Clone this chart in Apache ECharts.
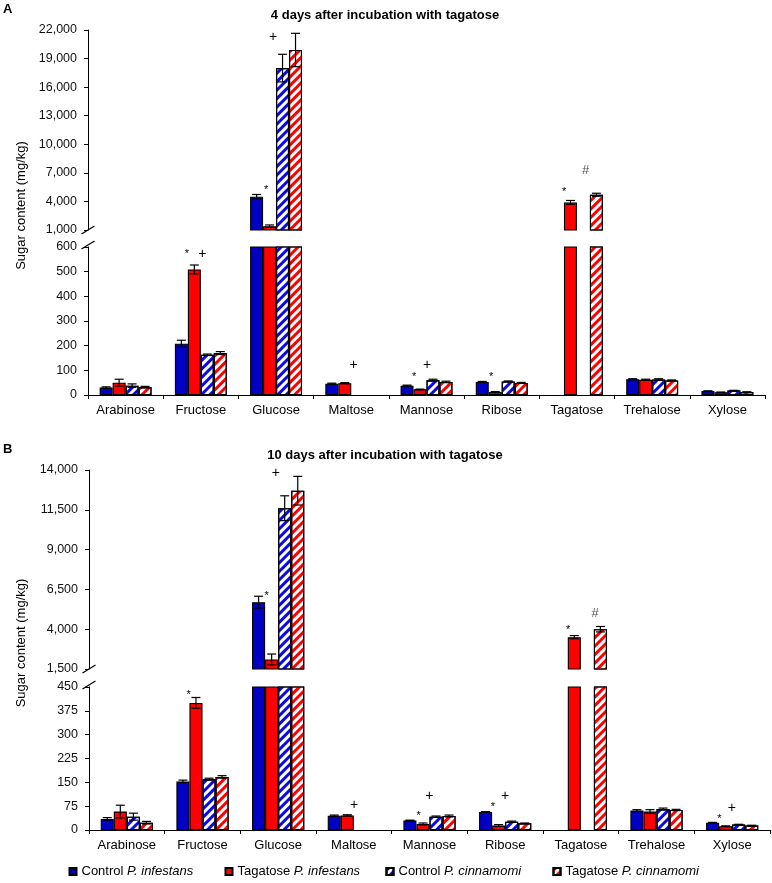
<!DOCTYPE html>
<html><head><meta charset="utf-8">
<script src="https://cdn.jsdelivr.net/npm/echarts@6/dist/echarts.min.js"></script>
<style>html,body{margin:0;padding:0;background:#fff}#c{width:772px;height:883px}</style>
</head><body><div id="c"></div>
<script>
// ---------------- DATA ----------------
const categories = ['Arabinose','Fructose','Glucose','Maltose','Mannose','Ribose','Tagatose','Trehalose','Xylose'];
const seriesNames = ['Control P. infestans','Tagatose P. infestans','Control P. cinnamomi','Tagatose P. cinnamomi'];

// Panel A: 4 days after incubation (mg/kg)
const ctrlInfA = [30, 208, 4500, 46, 38, 53, null, 64, 16];
const tagInfA  = [50, 509, 1400, 48, 23, 12, 3900, 62, 11];
const ctrlCinA = [38, 163, 18000, null, 60, 55, null, 63, 18];
const tagCinA  = [32, 170, 19900, null, 53, 49, 4700, 59, 12];
const errCtrlInfA = [3, 14, 230, 2, 2, 2, 0, 2, 1];
const errTagInfA  = [14, 18, 130, 2, 1, 2, 200, 2, 1];
const errCtrlCinA = [7, 3, 1450, 0, 4, 2, 0, 3, 1];
const errTagCinA  = [3, 6, 1750, 0, 3, 2, 160, 2, 1];

// Panel B: 10 days after incubation (mg/kg)
const ctrlInfB = [35, 153, 5700, 45, 30, 57, null, 61, 23];
const tagInfB  = [58, 400, 2100, 46, 19, 14, 3500, 58, 12];
const ctrlCinB = [42, 160, 11600, null, 42, 26, null, 66, 17];
const tagCinB  = [23, 167, 12700, null, 44, 21, 4000, 63, 14];
const errCtrlInfB = [4, 4, 370, 2, 1, 1, 0, 3, 1];
const errTagInfB  = [20, 17, 340, 2, 3, 3, 100, 6, 1];
const errCtrlCinB = [11, 3, 780, 0, 2, 2, 0, 3, 1];
const errTagCinB  = [4, 4, 900, 0, 3, 1, 170, 2, 1];

// Significance marks: [category, bar slot, mark, value anchor]
const annotA = [
  ['Fructose', 0.43, '*', 585], ['Fructose', 1.62, '+', 572],
  ['Glucose', 0.74, '*', 5500], ['Glucose', 1.28, '+', 21250],
  ['Maltose', 1.67, '+', 122],
  ['Mannose', 0.55, '*', 85], ['Mannose', 1.54, '+', 122],
  ['Ribose', 0.69, '*', 85],
  ['Tagatose', 0.51, '*', 5300], ['Tagatose', 2.16, '#', 7300]
];
const annotB = [
  ['Fructose', 0.43, '*', 434],
  ['Glucose', 0.61, '*', 6280], ['Glucose', 1.32, '+', 13800],
  ['Maltose', 1.51, '+', 78],
  ['Mannose', 0.67, '*', 54], ['Mannose', 1.49, '+', 108],
  ['Ribose', 0.55, '*', 82], ['Ribose', 1.49, '+', 108],
  ['Tagatose', 0.53, '*', 4150], ['Tagatose', 2.6, '#', 4970],
  ['Xylose', 0.53, '*', 44], ['Xylose', 1.48, '+', 68]
];

// Axis tick labels
const ticksUpperA = [1000, 4000, 7000, 10000, 13000, 16000, 19000, 22000];
const ticksLowerA = [0, 100, 200, 300, 400, 500, 600];
const ticksUpperB = [1500, 4000, 6500, 9000, 11500, 14000];
const ticksLowerB = [0, 75, 150, 225, 300, 375, 450];

const titleA = '4 days after incubation with tagatose';
const titleB = '10 days after incubation with tagatose';
const yName = 'Sugar content (mg/kg)';

// ---------------- STYLE / LAYOUT ----------------
const FONT = '"Liberation Sans", Arial, Helvetica, sans-serif';
const BLUE = '#0000c4';
const BLUE_H = '#0a0ae6';
const RED = '#ff0000';
const GAP = 0.31;
const layoutA = {left: 88, width: 677, upTop: 30, upH: 200, loTop: 247, loH: 148};
const layoutB = {left: 89, width: 681, upTop: 470, upH: 199, loTop: 687, loH: 143};

const hatch = c => ({symbol: 'rect', symbolSize: 1, dashArrayX: [1, 0], dashArrayY: [3, 3],
  rotation: -Math.PI / 4, color: c});
const barStyles = [
  {color: BLUE, borderColor: '#000', borderWidth: 1.1},
  {color: RED, borderColor: '#000', borderWidth: 1.1},
  {color: '#fff', borderColor: '#000', borderWidth: 1.1, decal: hatch(BLUE_H)},
  {color: '#fff', borderColor: '#000', borderWidth: 1.1, decal: hatch(RED)}
];

const grids = [], xAxes = [], yAxes = [], series = [], graphics = [];

function slotX(api, c, v, s) {
  const p = api.coord([c, v]);
  const bw = api.size([1, 0])[0];
  const gw = bw * (1 - GAP);
  return p[0] - gw / 2 + gw / 4 * (s + 0.5);
}

function buildPanel(L, vals, errs, annots, tUp, tLo, title, letter) {
  const gUp = grids.length, gLo = gUp + 1;
  const loMax = tLo[tLo.length - 1];
  grids.push({left: L.left, top: L.upTop, width: L.width, height: L.upH});
  grids.push({left: L.left, top: L.loTop, width: L.width, height: L.loH});
  xAxes.push({type: 'category', gridIndex: gUp, data: categories, show: false});
  xAxes.push({type: 'category', gridIndex: gLo, data: categories,
    axisLine: {lineStyle: {color: '#000', width: 1}},
    axisTick: {show: true, interval: 0, length: 4, lineStyle: {color: '#000'}},
    axisLabel: {interval: 0, margin: 9, color: '#000', fontSize: 13, fontFamily: FONT}});
  const yBase = (g, ticks) => ({
    type: 'value', gridIndex: g, min: ticks[0], max: ticks[ticks.length - 1],
    splitLine: {show: false},
    axisLine: {show: true, lineStyle: {color: '#000', width: 1}},
    axisTick: {show: true, length: 4, customValues: ticks, lineStyle: {color: '#000'}},
    axisLabel: {customValues: ticks, margin: 11, color: '#111', fontSize: 12.5, fontFamily: FONT,
      formatter: v => Number(v).toLocaleString('en-US')}
  });
  yAxes.push(yBase(gUp, tUp));
  yAxes.push(yBase(gLo, tLo));

  [gUp, gLo].forEach(g => {
    vals.forEach((arr, s) => {
      series.push({
        type: 'bar', name: seriesNames[s], xAxisIndex: g, yAxisIndex: g,
        data: arr.map(v => v == null ? '-' : v),
        barGap: '0%', barCategoryGap: (GAP * 100) + '%',
        itemStyle: barStyles[s], silent: true, clip: true,
        emphasis: {disabled: true}
      });
    });
    const isUp = g === gUp;
    const items = [];
    vals.forEach((arr, s) => arr.forEach((v, c) => {
      if (v == null || !errs[s][c]) return;
      if ((v > loMax) === isUp) items.push([c, s, v, errs[s][c]]);
    }));
    series.push({
      type: 'custom', xAxisIndex: g, yAxisIndex: g, clip: true, silent: true, z: 5,
      data: items, encode: {x: 0, y: 2},
      renderItem: (params, api) => {
        const c = api.value(0), s = api.value(1), v = api.value(2), e = api.value(3);
        const x = slotX(api, c, v, s);
        const y1 = api.coord([c, v + e])[1], y0 = api.coord([c, v - e])[1];
        const h = 4.5, st = {stroke: '#000', lineWidth: 1.2};
        return {type: 'group', children: [
          {type: 'line', shape: {x1: x, y1: y1, x2: x, y2: y0}, style: st},
          {type: 'line', shape: {x1: x - h, y1: y1, x2: x + h, y2: y1}, style: st},
          {type: 'line', shape: {x1: x - h, y1: y0, x2: x + h, y2: y0}, style: st}
        ]};
      }
    });
    const an = annots.filter(a => (a[3] > loMax) === isUp);
    series.push({
      type: 'custom', xAxisIndex: g, yAxisIndex: g, silent: true, z: 6,
      data: an.map(a => [categories.indexOf(a[0]), a[3]]), encode: {x: 0, y: 1},
      renderItem: (params, api) => {
        const a = an[params.dataIndex];
        const c = api.value(0), v = api.value(1);
        const x = slotX(api, c, v, a[1]);
        let y = api.coord([c, v])[1];
        const mark = a[2];
        const st = mark === '*' ? {fontSize: 11, fill: '#000', dy: 3}
                 : mark === '#' ? {fontSize: 13, fill: '#555', dy: 0}
                 : {fontSize: 14, fill: '#000', dy: 0};
        return {type: 'text', x: x, y: y + st.dy,
          style: {text: mark, fill: st.fill, fontSize: st.fontSize, fontFamily: FONT,
                  align: 'center', verticalAlign: 'middle'}};
      }
    });
  });

  // axis break marks
  [L.upTop + L.upH, L.loTop - 2].forEach(y => {
    graphics.push({type: 'line', silent: true, z: 10,
      shape: {x1: L.left - 6.5, y1: y + 4, x2: L.left + 6.5, y2: y - 4},
      style: {stroke: '#000', lineWidth: 1.2}});
  });
  // y-axis name
  graphics.push({type: 'text', silent: true, x: 21, y: (L.upTop + L.loTop + L.loH) / 2 - 7,
    rotation: Math.PI / 2,
    style: {text: yName, fontSize: 13, fontFamily: FONT, fill: '#000', align: 'center', verticalAlign: 'middle'}});
  // panel title
  graphics.push({type: 'text', silent: true, x: 385, y: L.upTop - 15,
    style: {text: title, fontSize: 13, fontWeight: 'bold', fontFamily: FONT, fill: '#000', align: 'center', verticalAlign: 'middle'}});
  // panel letter
  graphics.push({type: 'text', silent: true, x: 3, y: L.upTop - 21,
    style: {text: letter, fontSize: 13, fontWeight: 'bold', fontFamily: FONT, fill: '#000', align: 'left', verticalAlign: 'middle'}});
}

buildPanel(layoutA, [ctrlInfA, tagInfA, ctrlCinA, tagCinA], [errCtrlInfA, errTagInfA, errCtrlCinA, errTagCinA],
  annotA, ticksUpperA, ticksLowerA, titleA, 'A');
buildPanel(layoutB, [ctrlInfB, tagInfB, ctrlCinB, tagCinB], [errCtrlInfB, errTagInfB, errCtrlCinB, errTagCinB],
  annotB, ticksUpperB, ticksLowerB, titleB, 'B');

const legendLefts = [68.5, 224.5, 385.5, 552.5];
const legends = seriesNames.map((n, i) => ({
  data: [n], left: legendLefts[i], top: 865, icon: 'rect', itemWidth: 7, itemHeight: 7,
  selectedMode: false, padding: 0,
  formatter: name => name.replace(/(P\. \w+)/, '{i|$1}'),
  textStyle: {fontSize: 13, fontFamily: FONT, color: '#000',
    rich: {i: {fontSize: 13, fontFamily: FONT, fontStyle: 'italic', color: '#000'}}}
}));

const chart = echarts.init(document.getElementById('c'), null, {renderer: 'canvas'});
chart.setOption({
  animation: false,
  backgroundColor: '#fff',
  grid: grids, xAxis: xAxes, yAxis: yAxes, series: series,
  legend: legends, graphic: graphics
});
</script></body></html>
